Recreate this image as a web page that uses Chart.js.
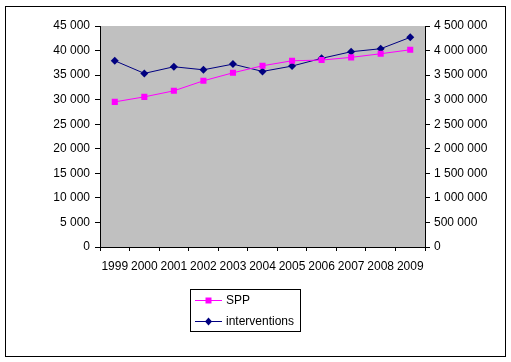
<!DOCTYPE html>
<html>
<head>
<meta charset="utf-8">
<script src="https://cdn.jsdelivr.net/npm/chart.js@4/dist/chart.umd.min.js"></script>
<style>
html,body{margin:0;padding:0;background:#fff;}
canvas{display:block;}
</style>
</head>
<body>
<canvas id="c" width="511" height="362"></canvas>
<script>
const years = ['1999','2000','2001','2002','2003','2004','2005','2006','2007','2008','2009'];
const spp = [29550, 30570, 31800, 33840, 35470, 36900, 37920, 38060, 38610, 39350, 40160];
const interventions = [3792000, 3535000, 3670000, 3608000, 3724000, 3575000, 3684000, 3841000, 3976000, 4037000, 4269000];
const leftTicks = {min: 0, max: 45000, step: 5000};
const rightTicks = {min: 0, max: 4500000, step: 500000};

const FONT = 'Liberation Sans, Arial, sans-serif';
function fmt(v){ return String(Math.round(v)).replace(/\B(?=(\d{3})+(?!\d))/g, ' '); }

const bgPlugin = {
  id: 'bg',
  beforeDraw(chart){
    const {ctx, chartArea:a} = chart;
    ctx.save();
    ctx.fillStyle = '#ffffff';
    ctx.fillRect(0,0,chart.width,chart.height);
    ctx.fillStyle = '#C0C0C0';
    ctx.fillRect(a.left, a.top, a.right-a.left, a.bottom-a.top);
    ctx.strokeStyle = '#000';
    ctx.lineWidth = 1;
    ctx.strokeRect(5.5, 6.5, 500, 350);
    ctx.restore();
  },
  afterDraw(chart){
    const ctx = chart.ctx;
    ctx.save();
    const bx = 190.5, by = 289.5, bw = 110, bh = 42;
    ctx.strokeStyle = '#000';
    ctx.lineWidth = 1;
    ctx.strokeRect(bx, by, bw, bh);
    chart.data.datasets.forEach((ds, i) => {
      const y = 300 + i*21;
      ctx.strokeStyle = ds.borderColor;
      ctx.lineWidth = 1;
      ctx.beginPath();
      ctx.moveTo(195, y+0.5); ctx.lineTo(222, y+0.5); ctx.stroke();
      ctx.fillStyle = ds.backgroundColor;
      ctx.beginPath();
      if (ds.pointStyle === 'rect') {
        ctx.rect(205.5, y-2.5, 6, 6);
      } else {
        ctx.moveTo(208.5, y-3.5); ctx.lineTo(212, y+0.5); ctx.lineTo(208.5, y+4.5); ctx.lineTo(205, y+0.5); ctx.closePath();
      }
      ctx.fill();
      ctx.fillStyle = '#000';
      ctx.font = '12px ' + FONT;
      ctx.textBaseline = 'middle';
      ctx.textAlign = 'left';
      ctx.fillText(ds.label, 226, y+1);
    });
    ctx.restore();
  }
};

new Chart(document.getElementById('c'), {
  type: 'line',
  data: {
    labels: years,
    datasets: [
      {label: 'SPP', data: spp, yAxisID: 'y', borderColor: '#FF00FF', backgroundColor: '#FF00FF',
       borderWidth: 1, pointStyle: 'rect', pointRadius: 4.3, pointBorderWidth: 0, tension: 0},
      {label: 'interventions', data: interventions, yAxisID: 'y2', borderColor: '#000080', backgroundColor: '#000080',
       borderWidth: 1, pointStyle: 'rectRot', pointRadius: 4, pointBorderWidth: 0, tension: 0}
    ]
  },
  options: {
    responsive: false,
    animation: false,
    devicePixelRatio: 1,
    layout: {padding: {top: 26, left: 0, right: 0, bottom: 0}},
    plugins: {legend: {display: false}, tooltip: {enabled: false}},
    scales: {
      x: {
        type: 'category',
        offset: true,
        grid: {offset: true, drawOnChartArea: false, tickLength: 4, color: '#000'},
        border: {color: '#000'},
        ticks: {autoSkip: false, maxRotation: 0, minRotation: 0, padding: 8, color: '#000', font: {family: FONT, size: 12}},
        afterFit(s){ s.height = 115; }
      },
      y: {
        position: 'left',
        min: leftTicks.min, max: leftTicks.max,
        grid: {drawOnChartArea: false, tickLength: 5, color: '#000'},
        border: {color: '#000'},
        ticks: {stepSize: leftTicks.step, padding: 5, color: '#000', font: {family: FONT, size: 12}, callback: v => fmt(v)},
        afterFit(s){ s.width = 100; }
      },
      y2: {
        position: 'right',
        min: rightTicks.min, max: rightTicks.max,
        grid: {drawOnChartArea: false, tickLength: 5, color: '#000'},
        border: {color: '#000'},
        ticks: {stepSize: rightTicks.step, padding: 4, color: '#000', font: {family: FONT, size: 12}, callback: v => fmt(v)},
        afterFit(s){ s.width = 86; }
      }
    }
  },
  plugins: [bgPlugin]
});
</script>
</body>
</html>
